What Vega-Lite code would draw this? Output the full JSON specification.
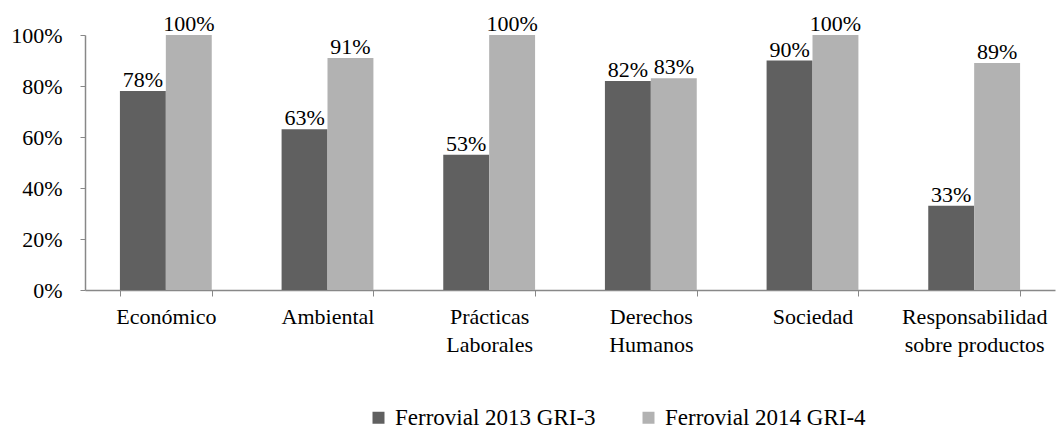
{
  "$schema": "https://vega.github.io/schema/vega-lite/v6.json",
  "autosize": "none",
  "width": 970,
  "height": 255,
  "padding": {"left": 85, "top": 35, "right": 1, "bottom": 139},
  "background": "white",
  "config": {
    "font": "Liberation Serif",
    "view": {"stroke": null}
  },
  "data": {
    "values": [
      {"categoria": "Económico", "serie": "Ferrovial 2013 GRI-3", "valor": 0.78},
      {"categoria": "Económico", "serie": "Ferrovial 2014 GRI-4", "valor": 1.00},
      {"categoria": "Ambiental", "serie": "Ferrovial 2013 GRI-3", "valor": 0.63},
      {"categoria": "Ambiental", "serie": "Ferrovial 2014 GRI-4", "valor": 0.91},
      {"categoria": "Prácticas Laborales", "serie": "Ferrovial 2013 GRI-3", "valor": 0.53},
      {"categoria": "Prácticas Laborales", "serie": "Ferrovial 2014 GRI-4", "valor": 1.00},
      {"categoria": "Derechos Humanos", "serie": "Ferrovial 2013 GRI-3", "valor": 0.82},
      {"categoria": "Derechos Humanos", "serie": "Ferrovial 2014 GRI-4", "valor": 0.83},
      {"categoria": "Sociedad", "serie": "Ferrovial 2013 GRI-3", "valor": 0.90},
      {"categoria": "Sociedad", "serie": "Ferrovial 2014 GRI-4", "valor": 1.00},
      {"categoria": "Responsabilidad sobre productos", "serie": "Ferrovial 2013 GRI-3", "valor": 0.33},
      {"categoria": "Responsabilidad sobre productos", "serie": "Ferrovial 2014 GRI-4", "valor": 0.89}
    ]
  },
  "encoding": {
    "x": {
      "field": "categoria",
      "type": "nominal",
      "sort": null,
      "scale": {"paddingInner": 0.432, "paddingOuter": 0.216},
      "axis": {
        "title": null,
        "labelAngle": 0,
        "labelFont": "Liberation Serif",
        "labelFontSize": 22,
        "labelColor": "#000000",
        "labelPadding": 10,
        "labelLineHeight": 28,
        "labelExpr": "indexof(datum.label, ' ') < 0 ? datum.label : [substring(datum.label, 0, indexof(datum.label, ' ')), substring(datum.label, indexof(datum.label, ' ') + 1)]",
        "tickBand": "extent",
        "tickSize": 6,
        "tickColor": "#888888",
        "domainColor": "#888888",
        "domainWidth": 1.5
      }
    },
    "xOffset": {"field": "serie", "type": "nominal", "scale": {"paddingInner": 0, "paddingOuter": 0}},
    "y": {
      "field": "valor",
      "type": "quantitative",
      "scale": {"domain": [0, 1], "nice": false},
      "axis": {
        "title": null,
        "format": ".0%",
        "values": [0, 0.2, 0.4, 0.6, 0.8, 1.0],
        "grid": false,
        "labelFont": "Liberation Serif",
        "labelFontSize": 22,
        "labelColor": "#000000",
        "labelPadding": 18,
        "tickSize": 5,
        "tickColor": "#888888",
        "domainColor": "#888888",
        "domainWidth": 1.5
      }
    }
  },
  "layer": [
    {
      "mark": {"type": "bar"},
      "encoding": {
        "color": {
          "field": "serie",
          "type": "nominal",
          "scale": {"range": ["#606060", "#b2b2b2"]},
          "legend": {
            "title": null,
            "orient": "none",
            "legendX": 282,
            "legendY": 371,
            "direction": "horizontal",
            "columns": 2,
            "columnPadding": 41,
            "symbolType": "square",
            "symbolSize": 144,
            "symbolStrokeWidth": 0,
            "labelFont": "Liberation Serif",
            "labelFontSize": 23,
            "labelColor": "#000000",
            "labelLimit": 300,
            "labelOffset": 5
          }
        }
      }
    },
    {
      "mark": {"type": "text", "baseline": "alphabetic", "dy": -4, "fontSize": 22, "font": "Liberation Serif", "color": "#000000"},
      "encoding": {
        "text": {"field": "valor", "type": "quantitative", "format": ".0%"}
      }
    }
  ]
}
